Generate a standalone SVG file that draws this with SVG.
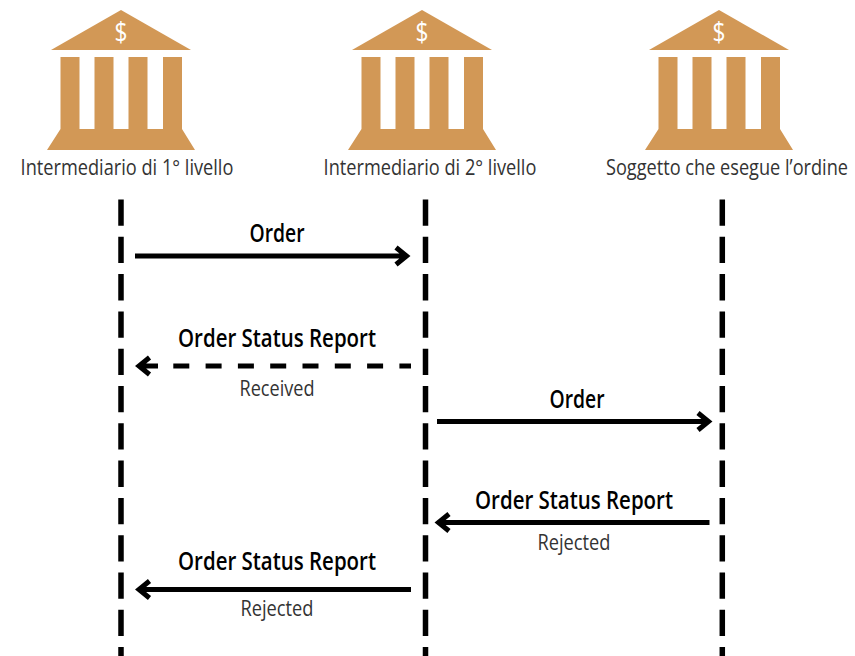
<svg xmlns="http://www.w3.org/2000/svg" width="855" height="656" viewBox="0 0 855 656">
<style>
.b{fill:#d29856}
.d{fill:#fff;font:27px "Open Sans","Liberation Sans",sans-serif;text-anchor:middle}
.n{fill:#333;font:22px "Open Sans","Liberation Sans",sans-serif;text-anchor:middle}
.t{fill:#000;font:600 25px "Open Sans","Liberation Sans",sans-serif;text-anchor:middle}
.s{fill:#333;font:21px "Open Sans","Liberation Sans",sans-serif;text-anchor:middle}
.l{stroke:#000;stroke-width:5.5;stroke-dasharray:26.3 11;fill:none}
.a{stroke:#000;stroke-width:5;fill:none}
.q{stroke-dasharray:16 16.3}
</style>
<defs>
<g id="bank">
<path class="b" d="M0 -40L70 0H-70Z"/>
<path class="b" d="M-60.5 7H-41.5V79H-26.5V7H-7.5V79H7.5V7H26.5V79H42V7H61V79L74 100H-74L-60.5 79Z"/>
<text class="d" x="0" y="-8" textLength="13" lengthAdjust="spacingAndGlyphs">$</text>
</g>
</defs>
<g id="node1"><use href="#bank" x="121" y="50"/><text class="n" transform="translate(127 175) scale(.827 1)">Intermediario di 1° livello</text></g>
<g id="node2"><use href="#bank" x="422" y="50"/><text class="n" transform="translate(430 175) scale(.827 1)">Intermediario di 2° livello</text></g>
<g id="node3"><use href="#bank" x="719" y="50"/><text class="n" transform="translate(727 175) scale(.826 1)">Soggetto che esegue l’ordine</text></g>
<g id="connectors">
<path class="l" d="M121 199.5V656M425.5 199.5V656M722.3 199.5V656"/>
<path class="a" d="M135 256H406M396 247.500L406.500 256L396 264.500"/>
<path class="a q" d="M173.300 366H411"/><path class="a" d="M139 366H158M149.500 357.500L139 366L149.500 374.500"/>
<path class="a" d="M437 421.500H708M698 413L708.500 421.500L698 430"/>
<path class="a" d="M709.500 522.500H439M449 514L438.500 522.500L449 531"/>
<path class="a" d="M411 589.500H139M149.500 581L139 589.500L149.500 598"/>
</g>
<g id="labels">
<text class="t" x="277" y="242" textLength="55" lengthAdjust="spacingAndGlyphs">Order</text>
<text class="t" x="277" y="347" textLength="198" lengthAdjust="spacingAndGlyphs">Order Status Report</text>
<text class="s" x="277" y="396" textLength="75" lengthAdjust="spacingAndGlyphs">Received</text>
<text class="t" x="577" y="408" textLength="55" lengthAdjust="spacingAndGlyphs">Order</text>
<text class="t" x="574" y="509" textLength="198" lengthAdjust="spacingAndGlyphs">Order Status Report</text>
<text class="s" x="574" y="550" textLength="73" lengthAdjust="spacingAndGlyphs">Rejected</text>
<text class="t" x="277" y="570" textLength="198" lengthAdjust="spacingAndGlyphs">Order Status Report</text>
<text class="s" x="277" y="616" textLength="73" lengthAdjust="spacingAndGlyphs">Rejected</text>
</g>
</svg>
